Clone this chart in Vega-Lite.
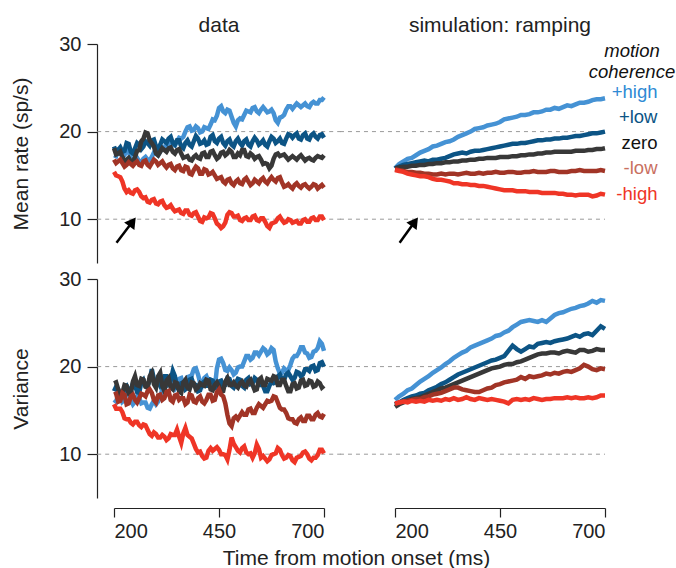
{
"$schema": "https://vega.github.io/schema/vega-lite/v6.json",
"background": "white",
"autosize": {"type": "none"},
"padding": {"left": 114, "top": 44, "right": 562, "bottom": 524},
"bounds": "flush",
"columns": 2,
"spacing": {"row": 16, "column": 71},
"config": {
  "font": "Liberation Sans",
  "view": {"stroke": null},
  "axis": {"labelFontSize": 20, "titleFontSize": 21, "labelColor": "#222", "titleColor": "#222", "domainColor": "#222", "tickColor": "#222", "grid": false, "titleFontWeight": "normal", "domainWidth": 1.2, "tickWidth": 1.2},
  "title": {"fontSize": 21, "fontWeight": "normal", "color": "#222", "anchor": "middle", "offset": -2},
  "legend": {"padding": 0}
},
"datasets": {
  "grid": [{"g": 10}, {"g": 20}],
  "arrowL": [{"x": 206, "y": 7.3, "x2": 244, "y2": 9.7}],
  "arrowR": [{"x": 211, "y": 7.3, "x2": 247, "y2": 9.7}],
  "rateData": [
{"t":200,"+high":17.3,"+low":18.3,"zero":18.1,"-low":16.8,"-high":15.4},
{"t":205,"+high":17.2,"+low":17.7,"zero":17.4,"-low":16.4,"-high":15.0},
{"t":210,"+high":17.9,"+low":17.9,"zero":17.5,"-low":16.6,"-high":14.9},
{"t":215,"+high":17.8,"+low":18.2,"zero":17.7,"-low":16.8,"-high":14.8},
{"t":220,"+high":17.1,"+low":17.7,"zero":17.1,"-low":16.4,"-high":14.3},
{"t":225,"+high":17.3,"+low":17.8,"zero":16.6,"-low":16.0,"-high":13.5},
{"t":230,"+high":17.9,"+low":18.7,"zero":16.8,"-low":16.2,"-high":13.1},
{"t":235,"+high":17.7,"+low":18.6,"zero":17.0,"-low":16.5,"-high":13.3},
{"t":240,"+high":17.0,"+low":17.7,"zero":16.6,"-low":16.3,"-high":13.0},
{"t":245,"+high":16.6,"+low":17.5,"zero":16.5,"-low":16.1,"-high":12.9},
{"t":250,"+high":16.8,"+low":18.1,"zero":17.1,"-low":16.4,"-high":13.3},
{"t":255,"+high":17.0,"+low":18.7,"zero":17.8,"-low":16.6,"-high":13.4},
{"t":260,"+high":16.6,"+low":18.5,"zero":17.9,"-low":16.2,"-high":13.1},
{"t":265,"+high":16.5,"+low":18.0,"zero":18.9,"-low":16.1,"-high":12.6},
{"t":270,"+high":16.9,"+low":18.3,"zero":19.2,"-low":16.6,"-high":12.4},
{"t":275,"+high":17.1,"+low":18.9,"zero":19.9,"-low":16.7,"-high":12.5},
{"t":280,"+high":16.8,"+low":18.7,"zero":19.8,"-low":16.2,"-high":12.0},
{"t":285,"+high":16.7,"+low":18.4,"zero":19.0,"-low":16.0,"-high":11.9},
{"t":290,"+high":17.1,"+low":19.0,"zero":18.7,"-low":16.4,"-high":12.2},
{"t":295,"+high":17.6,"+low":19.1,"zero":18.3,"-low":16.8,"-high":12.3},
{"t":300,"+high":17.5,"+low":18.3,"zero":17.5,"-low":16.6,"-high":11.8},
{"t":305,"+high":17.3,"+low":18.0,"zero":17.3,"-low":16.2,"-high":11.7},
{"t":310,"+high":17.7,"+low":18.5,"zero":17.7,"-low":16.4,"-high":12.0},
{"t":315,"+high":18.2,"+low":19.1,"zero":18.1,"-low":16.6,"-high":12.1},
{"t":320,"+high":18.3,"+low":18.9,"zero":17.9,"-low":16.2,"-high":11.6},
{"t":325,"+high":18.1,"+low":18.7,"zero":17.7,"-low":15.9,"-high":11.3},
{"t":330,"+high":18.5,"+low":19.2,"zero":18.1,"-low":16.2,"-high":11.4},
{"t":335,"+high":18.8,"+low":19.4,"zero":18.2,"-low":16.3,"-high":11.6},
{"t":340,"+high":18.5,"+low":18.7,"zero":17.7,"-low":15.8,"-high":11.2},
{"t":345,"+high":18.4,"+low":18.5,"zero":17.5,"-low":15.6,"-high":10.9},
{"t":350,"+high":18.9,"+low":19.0,"zero":17.9,"-low":16.0,"-high":11.0},
{"t":355,"+high":19.3,"+low":19.0,"zero":18.0,"-low":16.1,"-high":11.1},
{"t":360,"+high":19.2,"+low":18.3,"zero":17.5,"-low":15.6,"-high":10.7},
{"t":365,"+high":19.4,"+low":18.1,"zero":17.0,"-low":15.5,"-high":10.6},
{"t":370,"+high":20.0,"+low":18.7,"zero":17.1,"-low":16.0,"-high":11.0},
{"t":375,"+high":20.5,"+low":19.0,"zero":17.2,"-low":15.9,"-high":11.0},
{"t":380,"+high":20.6,"+low":18.5,"zero":16.8,"-low":15.2,"-high":10.5},
{"t":385,"+high":20.1,"+low":18.3,"zero":16.7,"-low":15.1,"-high":10.4},
{"t":390,"+high":20.2,"+low":18.9,"zero":17.1,"-low":15.6,"-high":10.7},
{"t":395,"+high":20.6,"+low":19.5,"zero":17.3,"-low":16.0,"-high":10.8},
{"t":400,"+high":20.4,"+low":19.2,"zero":17.0,"-low":15.8,"-high":10.3},
{"t":405,"+high":19.9,"+low":18.6,"zero":16.9,"-low":15.2,"-high":9.8},
{"t":410,"+high":20.0,"+low":18.7,"zero":17.5,"-low":15.2,"-high":9.7},
{"t":415,"+high":20.5,"+low":19.0,"zero":17.6,"-low":15.7,"-high":10.2},
{"t":420,"+high":20.4,"+low":18.5,"zero":17.1,"-low":15.6,"-high":10.1},
{"t":425,"+high":20.3,"+low":18.6,"zero":17.1,"-low":15.1,"-high":10.2},
{"t":430,"+high":20.8,"+low":19.4,"zero":17.7,"-low":15.2,"-high":10.7},
{"t":435,"+high":21.4,"+low":19.6,"zero":17.8,"-low":15.4,"-high":10.6},
{"t":440,"+high":21.3,"+low":18.9,"zero":17.3,"-low":15.0,"-high":10.1},
{"t":445,"+high":21.8,"+low":18.7,"zero":16.9,"-low":14.6,"-high":9.5},
{"t":450,"+high":22.7,"+low":19.2,"zero":17.1,"-low":14.7,"-high":9.3},
{"t":455,"+high":22.9,"+low":19.4,"zero":17.6,"-low":14.8,"-high":9.0},
{"t":460,"+high":22.3,"+low":18.7,"zero":17.7,"-low":14.3,"-high":9.2},
{"t":465,"+high":22.1,"+low":18.4,"zero":17.3,"-low":14.1,"-high":9.6},
{"t":470,"+high":22.5,"+low":18.9,"zero":17.5,"-low":14.5,"-high":10.5},
{"t":475,"+high":22.4,"+low":19.1,"zero":17.9,"-low":14.6,"-high":10.8},
{"t":480,"+high":21.7,"+low":18.5,"zero":17.7,"-low":14.1,"-high":10.7},
{"t":485,"+high":21.0,"+low":18.3,"zero":17.1,"-low":13.9,"-high":10.3},
{"t":490,"+high":20.6,"+low":18.9,"zero":17.1,"-low":14.3,"-high":10.3},
{"t":495,"+high":21.3,"+low":19.2,"zero":17.5,"-low":14.5,"-high":10.4},
{"t":500,"+high":21.5,"+low":18.7,"zero":17.3,"-low":14.1,"-high":9.9},
{"t":505,"+high":21.4,"+low":18.4,"zero":17.9,"-low":14.0,"-high":9.8},
{"t":510,"+high":21.9,"+low":18.9,"zero":17.9,"-low":14.5,"-high":10.1},
{"t":515,"+high":22.4,"+low":19.1,"zero":17.2,"-low":14.7,"-high":10.2},
{"t":520,"+high":22.3,"+low":18.5,"zero":17.1,"-low":14.3,"-high":9.9},
{"t":525,"+high":22.2,"+low":18.3,"zero":17.5,"-low":13.9,"-high":9.9},
{"t":530,"+high":22.7,"+low":18.9,"zero":17.3,"-low":14.1,"-high":10.3},
{"t":535,"+high":22.8,"+low":19.3,"zero":16.9,"-low":14.5,"-high":10.4},
{"t":540,"+high":22.3,"+low":19.0,"zero":17.1,"-low":14.3,"-high":9.9},
{"t":545,"+high":22.1,"+low":18.5,"zero":17.2,"-low":14.1,"-high":9.8},
{"t":550,"+high":22.5,"+low":18.7,"zero":16.8,"-low":14.5,"-high":10.1},
{"t":555,"+high":22.8,"+low":19.0,"zero":16.3,"-low":14.7,"-high":10.1},
{"t":560,"+high":22.5,"+low":18.5,"zero":16.4,"-low":14.3,"-high":9.7},
{"t":565,"+high":22.2,"+low":18.3,"zero":16.3,"-low":14.1,"-high":9.2},
{"t":570,"+high":22.3,"+low":18.9,"zero":15.8,"-low":14.5,"-high":9.0},
{"t":575,"+high":22.5,"+low":19.4,"zero":16.1,"-low":14.8,"-high":9.5},
{"t":580,"+high":22.1,"+low":19.2,"zero":16.9,"-low":14.5,"-high":9.6},
{"t":585,"+high":21.3,"+low":18.7,"zero":17.4,"-low":14.3,"-high":9.7},
{"t":590,"+high":21.0,"+low":18.9,"zero":17.5,"-low":14.7,"-high":10.1},
{"t":595,"+high":21.6,"+low":19.2,"zero":17.2,"-low":14.8,"-high":10.3},
{"t":600,"+high":21.7,"+low":18.7,"zero":17.3,"-low":14.2,"-high":9.9},
{"t":605,"+high":21.9,"+low":18.6,"zero":17.4,"-low":13.7,"-high":9.6},
{"t":610,"+high":22.5,"+low":19.2,"zero":17.1,"-low":13.8,"-high":9.7},
{"t":615,"+high":22.9,"+low":19.7,"zero":16.8,"-low":14.0,"-high":10.0},
{"t":620,"+high":22.9,"+low":19.6,"zero":17.0,"-low":13.7,"-high":9.9},
{"t":625,"+high":22.6,"+low":19.3,"zero":17.2,"-low":13.5,"-high":9.6},
{"t":630,"+high":22.9,"+low":19.6,"zero":17.0,"-low":13.9,"-high":9.7},
{"t":635,"+high":23.2,"+low":19.8,"zero":16.8,"-low":14.1,"-high":9.8},
{"t":640,"+high":23.0,"+low":19.2,"zero":17.1,"-low":13.8,"-high":9.5},
{"t":645,"+high":22.8,"+low":19.1,"zero":17.3,"-low":13.6,"-high":9.5},
{"t":650,"+high":23.0,"+low":19.6,"zero":17.0,"-low":13.9,"-high":9.9},
{"t":655,"+high":23.2,"+low":19.8,"zero":16.7,"-low":14.0,"-high":10.0},
{"t":660,"+high":22.9,"+low":19.2,"zero":16.9,"-low":13.7,"-high":9.7},
{"t":665,"+high":22.8,"+low":19.1,"zero":17.0,"-low":13.5,"-high":9.7},
{"t":670,"+high":23.2,"+low":19.6,"zero":16.8,"-low":13.7,"-high":10.1},
{"t":675,"+high":23.4,"+low":19.8,"zero":16.7,"-low":14.0,"-high":10.2},
{"t":680,"+high":23.2,"+low":19.4,"zero":17.0,"-low":13.9,"-high":9.9},
{"t":685,"+high":23.2,"+low":19.2,"zero":17.2,"-low":13.5,"-high":9.9},
{"t":690,"+high":23.6,"+low":19.6,"zero":17.1,"-low":13.7,"-high":10.3},
{"t":695,"+high":23.6,"+low":19.7,"zero":17.0,"-low":13.9,"-high":10.3},
{"t":700,"+high":23.9,"+low":19.3,"zero":17.3,"-low":13.6,"-high":9.9}
  ],
  "rateSim": [
{"t":200,"+high":15.8,"+low":15.8,"zero":15.8,"-low":15.7,"-high":15.6},
{"t":210,"+high":16.3,"+low":16.0,"zero":15.9,"-low":15.6,"-high":15.5},
{"t":220,"+high":16.6,"+low":16.2,"zero":16.0,"-low":15.5,"-high":15.4},
{"t":230,"+high":16.9,"+low":16.3,"zero":16.0,"-low":15.4,"-high":15.2},
{"t":240,"+high":17.0,"+low":16.4,"zero":16.1,"-low":15.4,"-high":15.1},
{"t":250,"+high":17.3,"+low":16.5,"zero":16.1,"-low":15.3,"-high":15.0},
{"t":260,"+high":17.6,"+low":16.6,"zero":16.2,"-low":15.3,"-high":14.9},
{"t":270,"+high":17.8,"+low":16.7,"zero":16.2,"-low":15.2,"-high":14.9},
{"t":280,"+high":18.0,"+low":16.6,"zero":16.3,"-low":15.2,"-high":14.8},
{"t":290,"+high":18.3,"+low":16.8,"zero":16.3,"-low":15.1,"-high":14.6},
{"t":300,"+high":18.4,"+low":16.8,"zero":16.4,"-low":15.1,"-high":14.5},
{"t":310,"+high":18.6,"+low":16.9,"zero":16.4,"-low":15.2,"-high":14.5},
{"t":320,"+high":18.8,"+low":17.0,"zero":16.5,"-low":15.1,"-high":14.4},
{"t":330,"+high":18.9,"+low":17.2,"zero":16.5,"-low":15.2,"-high":14.3},
{"t":340,"+high":19.1,"+low":17.4,"zero":16.6,"-low":15.2,"-high":14.1},
{"t":350,"+high":19.4,"+low":17.5,"zero":16.6,"-low":15.1,"-high":14.1},
{"t":360,"+high":19.6,"+low":17.6,"zero":16.7,"-low":15.2,"-high":14.0},
{"t":370,"+high":19.8,"+low":17.5,"zero":16.7,"-low":15.3,"-high":14.0},
{"t":380,"+high":20.0,"+low":17.7,"zero":16.8,"-low":15.2,"-high":13.9},
{"t":390,"+high":20.3,"+low":17.8,"zero":16.8,"-low":15.2,"-high":13.9},
{"t":400,"+high":20.4,"+low":17.8,"zero":16.9,"-low":15.3,"-high":13.8},
{"t":410,"+high":20.5,"+low":17.9,"zero":16.9,"-low":15.2,"-high":13.8},
{"t":420,"+high":20.7,"+low":18.0,"zero":17.0,"-low":15.3,"-high":13.7},
{"t":430,"+high":20.8,"+low":18.1,"zero":17.0,"-low":15.3,"-high":13.6},
{"t":440,"+high":20.9,"+low":18.2,"zero":17.0,"-low":15.4,"-high":13.5},
{"t":450,"+high":21.1,"+low":18.3,"zero":17.1,"-low":15.3,"-high":13.4},
{"t":460,"+high":21.4,"+low":18.4,"zero":17.1,"-low":15.3,"-high":13.3},
{"t":470,"+high":21.5,"+low":18.5,"zero":17.1,"-low":15.4,"-high":13.3},
{"t":480,"+high":21.6,"+low":18.6,"zero":17.2,"-low":15.4,"-high":13.3},
{"t":490,"+high":21.7,"+low":18.6,"zero":17.2,"-low":15.3,"-high":13.2},
{"t":500,"+high":21.9,"+low":18.7,"zero":17.3,"-low":15.3,"-high":13.2},
{"t":510,"+high":21.9,"+low":18.7,"zero":17.3,"-low":15.4,"-high":13.2},
{"t":520,"+high":22.0,"+low":18.8,"zero":17.4,"-low":15.4,"-high":13.1},
{"t":530,"+high":22.2,"+low":18.9,"zero":17.4,"-low":15.5,"-high":13.1},
{"t":540,"+high":22.2,"+low":19.0,"zero":17.5,"-low":15.4,"-high":13.1},
{"t":550,"+high":22.3,"+low":19.0,"zero":17.5,"-low":15.4,"-high":13.0},
{"t":560,"+high":22.5,"+low":19.1,"zero":17.6,"-low":15.4,"-high":13.0},
{"t":570,"+high":22.5,"+low":19.1,"zero":17.6,"-low":15.5,"-high":13.0},
{"t":580,"+high":22.7,"+low":19.2,"zero":17.7,"-low":15.5,"-high":13.0},
{"t":590,"+high":22.6,"+low":19.2,"zero":17.7,"-low":15.4,"-high":12.9},
{"t":600,"+high":22.8,"+low":19.3,"zero":17.7,"-low":15.4,"-high":12.9},
{"t":610,"+high":23.0,"+low":19.3,"zero":17.7,"-low":15.4,"-high":12.8},
{"t":620,"+high":22.9,"+low":19.4,"zero":17.7,"-low":15.5,"-high":12.8},
{"t":630,"+high":23.1,"+low":19.5,"zero":17.8,"-low":15.5,"-high":12.7},
{"t":640,"+high":23.3,"+low":19.5,"zero":17.8,"-low":15.6,"-high":12.8},
{"t":650,"+high":23.3,"+low":19.6,"zero":17.8,"-low":15.5,"-high":12.8},
{"t":660,"+high":23.4,"+low":19.7,"zero":17.9,"-low":15.5,"-high":12.8},
{"t":670,"+high":23.6,"+low":19.8,"zero":17.9,"-low":15.5,"-high":12.6},
{"t":680,"+high":23.7,"+low":19.8,"zero":18.0,"-low":15.5,"-high":12.7},
{"t":690,"+high":23.7,"+low":19.9,"zero":18.0,"-low":15.6,"-high":12.9},
{"t":700,"+high":23.8,"+low":20.0,"zero":18.1,"-low":15.5,"-high":12.8}
  ],
  "varData": [
{"t":200,"+high":16.2,"+low":17.2,"zero":18.1,"-low":16.8,"-high":15.7},
{"t":205,"+high":16.0,"+low":17.7,"zero":18.2,"-low":16.9,"-high":15.2},
{"t":210,"+high":16.8,"+low":17.4,"zero":17.4,"-low":16.0,"-high":15.2},
{"t":215,"+high":16.9,"+low":16.7,"zero":16.8,"-low":16.1,"-high":15.2},
{"t":220,"+high":16.0,"+low":16.6,"zero":17.0,"-low":17.0,"-high":14.8},
{"t":225,"+high":16.2,"+low":17.6,"zero":17.9,"-low":16.8,"-high":14.1},
{"t":230,"+high":17.2,"+low":17.8,"zero":17.8,"-low":15.7,"-high":14.0},
{"t":235,"+high":17.1,"+low":17.2,"zero":16.9,"-low":15.8,"-high":14.0},
{"t":240,"+high":16.2,"+low":17.4,"zero":16.8,"-low":16.6,"-high":13.6},
{"t":245,"+high":15.7,"+low":18.1,"zero":18.3,"-low":16.8,"-high":13.4},
{"t":250,"+high":16.0,"+low":17.9,"zero":18.9,"-low":16.2,"-high":13.7},
{"t":255,"+high":16.6,"+low":17.1,"zero":17.9,"-low":15.9,"-high":13.7},
{"t":260,"+high":16.4,"+low":17.0,"zero":17.8,"-low":16.4,"-high":13.3},
{"t":265,"+high":15.8,"+low":18.2,"zero":18.6,"-low":16.9,"-high":13.1},
{"t":270,"+high":15.9,"+low":18.5,"zero":18.5,"-low":16.8,"-high":13.4},
{"t":275,"+high":15.9,"+low":17.8,"zero":17.7,"-low":16.6,"-high":13.3},
{"t":280,"+high":15.3,"+low":17.8,"zero":17.6,"-low":17.2,"-high":12.8},
{"t":285,"+high":15.2,"+low":18.4,"zero":18.9,"-low":17.4,"-high":12.3},
{"t":290,"+high":15.7,"+low":19.7,"zero":19.3,"-low":17.0,"-high":12.1},
{"t":295,"+high":16.1,"+low":18.6,"zero":18.0,"-low":16.2,"-high":12.5},
{"t":300,"+high":15.7,"+low":17.9,"zero":17.6,"-low":15.9,"-high":12.3},
{"t":305,"+high":16.0,"+low":18.3,"zero":18.9,"-low":16.7,"-high":11.9},
{"t":310,"+high":16.6,"+low":17.8,"zero":19.3,"-low":16.8,"-high":11.9},
{"t":315,"+high":17.4,"+low":18.1,"zero":17.8,"-low":16.2,"-high":12.2},
{"t":320,"+high":17.6,"+low":18.9,"zero":17.2,"-low":16.4,"-high":12.0},
{"t":325,"+high":17.8,"+low":18.9,"zero":18.4,"-low":17.1,"-high":11.6},
{"t":330,"+high":18.5,"+low":18.1,"zero":18.7,"-low":17.2,"-high":11.8},
{"t":335,"+high":18.6,"+low":18.4,"zero":17.6,"-low":16.2,"-high":12.3},
{"t":340,"+high":17.9,"+low":19.5,"zero":17.4,"-low":16.0,"-high":12.2},
{"t":345,"+high":17.5,"+low":18.9,"zero":18.2,"-low":16.7,"-high":12.2},
{"t":350,"+high":17.9,"+low":17.6,"zero":18.1,"-low":16.8,"-high":12.8},
{"t":355,"+high":18.6,"+low":17.5,"zero":17.2,"-low":16.2,"-high":12.0},
{"t":360,"+high":18.7,"+low":18.1,"zero":17.0,"-low":16.4,"-high":11.3},
{"t":365,"+high":17.9,"+low":18.2,"zero":18.2,"-low":16.4,"-high":12.4},
{"t":370,"+high":17.9,"+low":17.4,"zero":18.5,"-low":15.7,"-high":13.0},
{"t":375,"+high":18.8,"+low":17.6,"zero":17.6,"-low":15.9,"-high":12.2},
{"t":380,"+high":18.9,"+low":18.5,"zero":17.4,"-low":16.8,"-high":12.0},
{"t":385,"+high":19.0,"+low":18.6,"zero":18.2,"-low":16.7,"-high":11.8},
{"t":390,"+high":19.7,"+low":17.9,"zero":18.1,"-low":16.0,"-high":11.2},
{"t":395,"+high":19.8,"+low":17.9,"zero":17.4,"-low":15.9,"-high":10.6},
{"t":400,"+high":19.1,"+low":17.2,"zero":17.6,"-low":16.4,"-high":10.2},
{"t":405,"+high":18.2,"+low":17.3,"zero":18.1,"-low":16.6,"-high":10.3},
{"t":410,"+high":17.9,"+low":18.1,"zero":17.9,"-low":16.0,"-high":9.8},
{"t":415,"+high":18.7,"+low":18.3,"zero":17.8,"-low":15.8,"-high":9.5},
{"t":420,"+high":18.9,"+low":17.8,"zero":18.5,"-low":16.2,"-high":9.6},
{"t":425,"+high":18.3,"+low":17.8,"zero":18.4,"-low":16.8,"-high":10.4},
{"t":430,"+high":18.5,"+low":18.5,"zero":17.4,"-low":16.8,"-high":10.7},
{"t":435,"+high":18.4,"+low":18.4,"zero":17.3,"-low":16.1,"-high":10.4},
{"t":440,"+high":17.6,"+low":17.6,"zero":17.9,"-low":16.2,"-high":10.6},
{"t":445,"+high":19.8,"+low":17.5,"zero":18.2,"-low":17.1,"-high":10.8},
{"t":450,"+high":20.8,"+low":18.3,"zero":17.8,"-low":17.4,"-high":10.5},
{"t":455,"+high":20.9,"+low":18.4,"zero":17.1,"-low":16.8,"-high":10.0},
{"t":460,"+high":20.4,"+low":17.8,"zero":17.2,"-low":16.6,"-high":10.0},
{"t":465,"+high":19.6,"+low":17.9,"zero":18.3,"-low":15.8,"-high":9.9},
{"t":470,"+high":19.5,"+low":18.7,"zero":18.7,"-low":14.5,"-high":9.4},
{"t":475,"+high":19.9,"+low":18.6,"zero":17.9,"-low":13.5,"-high":10.5},
{"t":480,"+high":19.6,"+low":17.8,"zero":17.9,"-low":13.2,"-high":11.9},
{"t":485,"+high":19.1,"+low":17.6,"zero":18.2,"-low":14.1,"-high":11.2},
{"t":490,"+high":19.3,"+low":18.1,"zero":17.8,"-low":14.3,"-high":10.8},
{"t":495,"+high":19.9,"+low":18.6,"zero":17.6,"-low":14.0,"-high":10.4},
{"t":500,"+high":20.0,"+low":18.5,"zero":18.1,"-low":14.4,"-high":10.2},
{"t":505,"+high":20.0,"+low":17.8,"zero":18.3,"-low":14.8,"-high":10.7},
{"t":510,"+high":20.6,"+low":17.6,"zero":17.8,"-low":14.5,"-high":10.9},
{"t":515,"+high":21.2,"+low":18.5,"zero":17.7,"-low":14.5,"-high":10.2},
{"t":520,"+high":21.2,"+low":18.7,"zero":18.3,"-low":15.1,"-high":10.0},
{"t":525,"+high":20.8,"+low":18.0,"zero":18.5,"-low":15.2,"-high":10.1},
{"t":530,"+high":21.0,"+low":18.1,"zero":17.9,"-low":14.7,"-high":9.6},
{"t":535,"+high":21.6,"+low":18.7,"zero":17.3,"-low":14.7,"-high":10.1},
{"t":540,"+high":21.6,"+low":18.5,"zero":17.4,"-low":15.3,"-high":11.1},
{"t":545,"+high":21.3,"+low":17.9,"zero":18.5,"-low":15.7,"-high":10.6},
{"t":550,"+high":21.7,"+low":17.9,"zero":18.7,"-low":15.5,"-high":9.6},
{"t":555,"+high":22.1,"+low":17.8,"zero":17.9,"-low":15.3,"-high":9.8},
{"t":560,"+high":21.9,"+low":17.2,"zero":17.9,"-low":15.7,"-high":9.5},
{"t":565,"+high":21.4,"+low":17.2,"zero":18.6,"-low":16.1,"-high":9.2},
{"t":570,"+high":21.6,"+low":17.8,"zero":18.5,"-low":16.0,"-high":9.4},
{"t":575,"+high":22.1,"+low":18.3,"zero":18.4,"-low":16.1,"-high":9.9},
{"t":580,"+high":21.9,"+low":18.1,"zero":18.9,"-low":16.6,"-high":10.0},
{"t":585,"+high":20.6,"+low":18.2,"zero":18.8,"-low":16.5,"-high":10.1},
{"t":590,"+high":19.8,"+low":18.9,"zero":17.9,"-low":15.9,"-high":10.7},
{"t":595,"+high":19.2,"+low":19.1,"zero":17.9,"-low":15.3,"-high":10.5},
{"t":600,"+high":19.3,"+low":18.5,"zero":18.5,"-low":15.1,"-high":9.9},
{"t":605,"+high":19.8,"+low":18.5,"zero":18.5,"-low":15.1,"-high":9.5},
{"t":610,"+high":19.6,"+low":19.1,"zero":17.8,"-low":14.7,"-high":9.6},
{"t":615,"+high":19.6,"+low":19.3,"zero":17.2,"-low":14.1,"-high":9.9},
{"t":620,"+high":20.2,"+low":18.9,"zero":17.2,"-low":14.0,"-high":9.8},
{"t":625,"+high":20.9,"+low":18.5,"zero":18.0,"-low":14.0,"-high":9.3},
{"t":630,"+high":21.2,"+low":18.7,"zero":18.1,"-low":13.6,"-high":9.1},
{"t":635,"+high":21.2,"+low":19.4,"zero":17.5,"-low":13.5,"-high":9.6},
{"t":640,"+high":21.6,"+low":19.3,"zero":17.6,"-low":14.0,"-high":9.7},
{"t":645,"+high":22.2,"+low":18.9,"zero":18.4,"-low":14.2,"-high":9.8},
{"t":650,"+high":22.2,"+low":19.1,"zero":18.5,"-low":13.8,"-high":10.2},
{"t":655,"+high":21.6,"+low":19.7,"zero":17.8,"-low":13.8,"-high":10.3},
{"t":660,"+high":21.5,"+low":19.7,"zero":17.9,"-low":14.4,"-high":10.0},
{"t":665,"+high":21.0,"+low":19.5,"zero":18.4,"-low":14.4,"-high":9.5},
{"t":670,"+high":21.1,"+low":20.0,"zero":18.3,"-low":14.0,"-high":9.3},
{"t":675,"+high":21.7,"+low":20.1,"zero":17.7,"-low":14.0,"-high":9.6},
{"t":680,"+high":21.8,"+low":19.5,"zero":17.8,"-low":14.5,"-high":9.6},
{"t":685,"+high":22.1,"+low":19.6,"zero":18.3,"-low":14.7,"-high":9.9},
{"t":690,"+high":22.9,"+low":20.4,"zero":18.1,"-low":14.3,"-high":10.5},
{"t":695,"+high":22.6,"+low":20.5,"zero":17.6,"-low":14.2,"-high":10.5},
{"t":700,"+high":21.8,"+low":20.0,"zero":17.8,"-low":14.6,"-high":10.1}
  ],
  "varSim": [
{"t":200,"+high":16.2,"+low":15.7,"zero":15.4,"-low":15.7,"-high":15.8},
{"t":210,"+high":16.6,"+low":15.9,"zero":15.7,"-low":15.9,"-high":15.9},
{"t":220,"+high":16.9,"+low":16.2,"zero":15.9,"-low":16.0,"-high":16.0},
{"t":230,"+high":17.3,"+low":16.4,"zero":16.1,"-low":16.1,"-high":15.9},
{"t":240,"+high":17.5,"+low":16.6,"zero":16.3,"-low":16.2,"-high":16.1},
{"t":250,"+high":17.9,"+low":16.7,"zero":16.4,"-low":16.3,"-high":16.0},
{"t":260,"+high":18.3,"+low":16.9,"zero":16.5,"-low":16.3,"-high":16.1},
{"t":270,"+high":18.6,"+low":17.0,"zero":16.7,"-low":16.5,"-high":16.0},
{"t":280,"+high":18.9,"+low":17.3,"zero":16.9,"-low":16.6,"-high":16.2},
{"t":290,"+high":19.3,"+low":17.5,"zero":17.1,"-low":16.8,"-high":16.1},
{"t":300,"+high":19.6,"+low":17.7,"zero":17.3,"-low":16.9,"-high":16.2},
{"t":310,"+high":19.9,"+low":18.0,"zero":17.5,"-low":17.0,"-high":16.1},
{"t":320,"+high":20.3,"+low":18.2,"zero":17.6,"-low":17.2,"-high":16.3},
{"t":330,"+high":20.6,"+low":18.5,"zero":17.8,"-low":17.4,"-high":16.2},
{"t":340,"+high":21.0,"+low":18.8,"zero":18.0,"-low":17.6,"-high":16.4},
{"t":350,"+high":21.3,"+low":19.1,"zero":18.2,"-low":17.6,"-high":16.2},
{"t":360,"+high":21.6,"+low":19.3,"zero":18.4,"-low":17.4,"-high":16.3},
{"t":370,"+high":21.8,"+low":19.5,"zero":18.6,"-low":17.3,"-high":16.5},
{"t":380,"+high":22.2,"+low":19.7,"zero":18.8,"-low":17.2,"-high":16.3},
{"t":390,"+high":22.4,"+low":19.9,"zero":19.0,"-low":17.1,"-high":16.2},
{"t":400,"+high":22.6,"+low":20.1,"zero":19.2,"-low":17.1,"-high":16.4},
{"t":410,"+high":22.8,"+low":20.3,"zero":19.4,"-low":17.3,"-high":16.3},
{"t":420,"+high":23.0,"+low":20.5,"zero":19.6,"-low":17.5,"-high":16.2},
{"t":430,"+high":23.2,"+low":20.7,"zero":19.8,"-low":17.6,"-high":16.3},
{"t":440,"+high":23.5,"+low":20.8,"zero":19.9,"-low":17.9,"-high":16.2},
{"t":450,"+high":23.6,"+low":21.0,"zero":20.0,"-low":18.0,"-high":16.1},
{"t":460,"+high":23.9,"+low":21.2,"zero":20.2,"-low":18.2,"-high":16.0},
{"t":470,"+high":24.1,"+low":21.8,"zero":20.3,"-low":18.3,"-high":15.8},
{"t":480,"+high":24.5,"+low":22.4,"zero":20.3,"-low":18.4,"-high":16.2},
{"t":490,"+high":24.8,"+low":22.0,"zero":20.5,"-low":18.5,"-high":16.3},
{"t":500,"+high":25.1,"+low":21.7,"zero":20.6,"-low":18.8,"-high":16.2},
{"t":510,"+high":25.2,"+low":22.0,"zero":20.8,"-low":18.6,"-high":16.3},
{"t":520,"+high":25.3,"+low":22.3,"zero":21.0,"-low":18.9,"-high":16.2},
{"t":530,"+high":25.2,"+low":22.2,"zero":21.2,"-low":18.8,"-high":16.4},
{"t":540,"+high":25.1,"+low":22.6,"zero":21.4,"-low":18.9,"-high":16.3},
{"t":550,"+high":25.3,"+low":22.7,"zero":21.5,"-low":19.0,"-high":16.2},
{"t":560,"+high":25.1,"+low":22.8,"zero":21.5,"-low":19.2,"-high":16.3},
{"t":570,"+high":25.5,"+low":22.7,"zero":21.6,"-low":19.1,"-high":16.3},
{"t":580,"+high":25.9,"+low":22.9,"zero":21.6,"-low":19.3,"-high":16.4},
{"t":590,"+high":26.1,"+low":23.0,"zero":21.5,"-low":19.2,"-high":16.4},
{"t":600,"+high":26.2,"+low":23.1,"zero":21.7,"-low":19.4,"-high":16.4},
{"t":610,"+high":26.4,"+low":23.2,"zero":21.8,"-low":19.5,"-high":16.5},
{"t":620,"+high":26.6,"+low":23.4,"zero":21.7,"-low":19.4,"-high":16.4},
{"t":630,"+high":26.7,"+low":23.6,"zero":21.6,"-low":19.6,"-high":16.5},
{"t":640,"+high":26.9,"+low":23.4,"zero":21.9,"-low":19.8,"-high":16.4},
{"t":650,"+high":27.0,"+low":23.7,"zero":21.9,"-low":20.2,"-high":16.4},
{"t":660,"+high":27.2,"+low":23.8,"zero":21.7,"-low":20.0,"-high":16.5},
{"t":670,"+high":27.5,"+low":23.6,"zero":21.8,"-low":19.7,"-high":16.4},
{"t":680,"+high":27.3,"+low":24.1,"zero":22.0,"-low":19.6,"-high":16.5},
{"t":690,"+high":27.6,"+low":24.6,"zero":21.9,"-low":19.8,"-high":16.7},
{"t":700,"+high":27.5,"+low":24.3,"zero":21.9,"-low":19.7,"-high":16.7}
  ]
},
"concat": [
  {
    "width": 210, "height": 219,
    "title": {"text": "data"},
    "layer": [
      {"data": {"name": "grid"}, "mark": {"type": "rule", "strokeDash": [4, 4], "color": "#9a9a9a", "strokeWidth": 1},
       "encoding": {
         "y": {"field": "g", "type": "quantitative", "scale": {"domain": [5, 30], "nice": false}, "axis": {"values": [10, 20, 30], "title": "Mean rate (sp/s)", "offset": 17, "tickSize": 10, "labelPadding": 6, "titlePadding": 27}},
         "x": {"datum": 160, "type": "quantitative", "scale": {"domain": [200, 700], "nice": false}, "axis": null},
         "x2": {"datum": 740}}},
      {"data": {"name": "rateData"}, "transform": [{"fold": ["+high", "+low", "zero", "-low", "-high"], "as": ["coh", "val"]}],
       "mark": {"type": "line", "strokeWidth": 4.5},
       "encoding": {
         "x": {"field": "t", "type": "quantitative", "scale": {"domain": [200, 700], "nice": false}, "axis": null},
         "y": {"field": "val", "type": "quantitative", "scale": {"domain": [5, 30], "nice": false}, "axis": {"values": [10, 20, 30], "title": "Mean rate (sp/s)", "offset": 17, "tickSize": 10, "labelPadding": 6, "titlePadding": 27}},
         "color": {"field": "coh", "type": "nominal", "scale": {"domain": ["+high", "+low", "zero", "-low", "-high"], "range": ["#4592d4", "#0c5485", "#383838", "#a13426", "#ef3526"]},
           "legend": {"orient": "none", "legendX": 475, "legendY": -2, "title": ["motion", "coherence"], "titleFontStyle": "italic", "titleFontWeight": "normal", "titleFontSize": 18.5, "titleColor": "#111", "titleAnchor": "middle", "titleAlign": "center", "titleLineHeight": 21, "titlePadding": 1, "labelFontSize": 18.5, "labelAlign": "right", "labelOffset": 33, "labelColor": {"expr": "datum.label == '+high' ? '#2e8ad4' : datum.label == '+low' ? '#0c5485' : datum.label == 'zero' ? '#111111' : datum.label == '-low' ? '#c9705f' : '#ef3526'"}, "symbolOpacity": 0, "symbolSize": 1, "symbolStrokeWidth": 0, "rowPadding": 6.5}}}},
      {"data": {"name": "arrowL"}, "mark": {"type": "rule", "strokeWidth": 2.5, "color": "black"},
       "encoding": {
         "x": {"field": "x", "type": "quantitative", "scale": {"domain": [200, 700], "nice": false}, "axis": null},
         "y": {"field": "y", "type": "quantitative", "scale": {"domain": [5, 30], "nice": false}, "axis": {"values": [10, 20, 30], "title": "Mean rate (sp/s)", "offset": 17, "tickSize": 10, "labelPadding": 6, "titlePadding": 27}},
         "x2": {"field": "x2"}, "y2": {"field": "y2"}}},
      {"data": {"name": "arrowL"}, "mark": {"type": "point", "shape": "triangle-up", "angle": 36, "size": 160, "filled": true, "color": "black", "opacity": 1},
       "encoding": {
         "x": {"field": "x2", "type": "quantitative", "scale": {"domain": [200, 700], "nice": false}, "axis": null},
         "y": {"field": "y2", "type": "quantitative", "scale": {"domain": [5, 30], "nice": false}, "axis": {"values": [10, 20, 30], "title": "Mean rate (sp/s)", "offset": 17, "tickSize": 10, "labelPadding": 6, "titlePadding": 27}}}}
    ]
  },
  {
    "width": 210, "height": 219,
    "title": {"text": "simulation: ramping", "offset": 8},
    "layer": [
      {"data": {"name": "grid"}, "mark": {"type": "rule", "strokeDash": [4, 4], "color": "#9a9a9a", "strokeWidth": 1},
       "encoding": {
         "y": {"field": "g", "type": "quantitative", "scale": {"domain": [5, 30], "nice": false}, "axis": null},
         "x": {"datum": 69, "type": "quantitative", "scale": {"domain": [200, 700], "nice": false}, "axis": null},
         "x2": {"datum": 700}}},
      {"data": {"name": "rateSim"}, "transform": [{"fold": ["+high", "+low", "zero", "-low", "-high"], "as": ["coh", "val"]}],
       "mark": {"type": "line", "strokeWidth": 4.5},
       "encoding": {
         "x": {"field": "t", "type": "quantitative", "scale": {"domain": [200, 700], "nice": false}, "axis": null},
         "y": {"field": "val", "type": "quantitative", "scale": {"domain": [5, 30], "nice": false}, "axis": null},
         "color": {"field": "coh", "type": "nominal", "scale": {"domain": ["+high", "+low", "zero", "-low", "-high"], "range": ["#4592d4", "#0c5485", "#383838", "#a13426", "#ef3526"]},
           "legend": {"orient": "none", "legendX": 475, "legendY": -2, "title": ["motion", "coherence"], "titleFontStyle": "italic", "titleFontWeight": "normal", "titleFontSize": 18.5, "titleColor": "#111", "titleAnchor": "middle", "titleAlign": "center", "titleLineHeight": 21, "titlePadding": 1, "labelFontSize": 18.5, "labelAlign": "right", "labelOffset": 33, "labelColor": {"expr": "datum.label == '+high' ? '#2e8ad4' : datum.label == '+low' ? '#0c5485' : datum.label == 'zero' ? '#111111' : datum.label == '-low' ? '#c9705f' : '#ef3526'"}, "symbolOpacity": 0, "symbolSize": 1, "symbolStrokeWidth": 0, "rowPadding": 6.5}}}},
      {"data": {"name": "arrowR"}, "mark": {"type": "rule", "strokeWidth": 2.5, "color": "black"},
       "encoding": {
         "x": {"field": "x", "type": "quantitative", "scale": {"domain": [200, 700], "nice": false}, "axis": null},
         "y": {"field": "y", "type": "quantitative", "scale": {"domain": [5, 30], "nice": false}, "axis": null},
         "x2": {"field": "x2"}, "y2": {"field": "y2"}}},
      {"data": {"name": "arrowR"}, "mark": {"type": "point", "shape": "triangle-up", "angle": 36, "size": 160, "filled": true, "color": "black", "opacity": 1},
       "encoding": {
         "x": {"field": "x2", "type": "quantitative", "scale": {"domain": [200, 700], "nice": false}, "axis": null},
         "y": {"field": "y2", "type": "quantitative", "scale": {"domain": [5, 30], "nice": false}, "axis": null}}}
    ]
  },
  {
    "width": 210, "height": 219,
    "layer": [
      {"data": {"name": "grid"}, "mark": {"type": "rule", "strokeDash": [4, 4], "color": "#9a9a9a", "strokeWidth": 1},
       "encoding": {
         "y": {"field": "g", "type": "quantitative", "scale": {"domain": [5, 30], "nice": false}, "axis": {"values": [10, 20, 30], "title": "Variance", "offset": 17, "tickSize": 10, "labelPadding": 6, "titlePadding": 27}},
         "x": {"datum": 160, "type": "quantitative", "scale": {"domain": [200, 700], "nice": false}, "axis": {"values": [200, 450, 700], "offset": 10, "tickSize": 9, "labelPadding": 4, "title": "Time from motion onset (ms)", "titleX": 242, "titlePadding": 6}},
         "x2": {"datum": 740}}},
      {"data": {"name": "varData"}, "transform": [{"fold": ["+high", "+low", "zero", "-low", "-high"], "as": ["coh", "val"]}],
       "mark": {"type": "line", "strokeWidth": 4.5},
       "encoding": {
         "x": {"field": "t", "type": "quantitative", "scale": {"domain": [200, 700], "nice": false}, "axis": {"values": [200, 450, 700], "offset": 10, "tickSize": 9, "labelPadding": 4, "title": "Time from motion onset (ms)", "titleX": 242, "titlePadding": 6}},
         "y": {"field": "val", "type": "quantitative", "scale": {"domain": [5, 30], "nice": false}, "axis": {"values": [10, 20, 30], "title": "Variance", "offset": 17, "tickSize": 10, "labelPadding": 6, "titlePadding": 27}},
         "color": {"field": "coh", "type": "nominal", "scale": {"domain": ["+high", "+low", "zero", "-low", "-high"], "range": ["#4592d4", "#0c5485", "#383838", "#a13426", "#ef3526"]},
           "legend": {"orient": "none", "legendX": 475, "legendY": -2, "title": ["motion", "coherence"], "titleFontStyle": "italic", "titleFontWeight": "normal", "titleFontSize": 18.5, "titleColor": "#111", "titleAnchor": "middle", "titleAlign": "center", "titleLineHeight": 21, "titlePadding": 1, "labelFontSize": 18.5, "labelAlign": "right", "labelOffset": 33, "labelColor": {"expr": "datum.label == '+high' ? '#2e8ad4' : datum.label == '+low' ? '#0c5485' : datum.label == 'zero' ? '#111111' : datum.label == '-low' ? '#c9705f' : '#ef3526'"}, "symbolOpacity": 0, "symbolSize": 1, "symbolStrokeWidth": 0, "rowPadding": 6.5}}}}
    ]
  },
  {
    "width": 210, "height": 219,
    "layer": [
      {"data": {"name": "grid"}, "mark": {"type": "rule", "strokeDash": [4, 4], "color": "#9a9a9a", "strokeWidth": 1},
       "encoding": {
         "y": {"field": "g", "type": "quantitative", "scale": {"domain": [5, 30], "nice": false}, "axis": null},
         "x": {"datum": 69, "type": "quantitative", "scale": {"domain": [200, 700], "nice": false}, "axis": {"values": [200, 450, 700], "offset": 10, "tickSize": 9, "labelPadding": 4, "title": null}},
         "x2": {"datum": 700}}},
      {"data": {"name": "varSim"}, "transform": [{"fold": ["+high", "+low", "zero", "-low", "-high"], "as": ["coh", "val"]}],
       "mark": {"type": "line", "strokeWidth": 4.5},
       "encoding": {
         "x": {"field": "t", "type": "quantitative", "scale": {"domain": [200, 700], "nice": false}, "axis": {"values": [200, 450, 700], "offset": 10, "tickSize": 9, "labelPadding": 4, "title": null}},
         "y": {"field": "val", "type": "quantitative", "scale": {"domain": [5, 30], "nice": false}, "axis": null},
         "color": {"field": "coh", "type": "nominal", "scale": {"domain": ["+high", "+low", "zero", "-low", "-high"], "range": ["#4592d4", "#0c5485", "#383838", "#a13426", "#ef3526"]},
           "legend": {"orient": "none", "legendX": 475, "legendY": -2, "title": ["motion", "coherence"], "titleFontStyle": "italic", "titleFontWeight": "normal", "titleFontSize": 18.5, "titleColor": "#111", "titleAnchor": "middle", "titleAlign": "center", "titleLineHeight": 21, "titlePadding": 1, "labelFontSize": 18.5, "labelAlign": "right", "labelOffset": 33, "labelColor": {"expr": "datum.label == '+high' ? '#2e8ad4' : datum.label == '+low' ? '#0c5485' : datum.label == 'zero' ? '#111111' : datum.label == '-low' ? '#c9705f' : '#ef3526'"}, "symbolOpacity": 0, "symbolSize": 1, "symbolStrokeWidth": 0, "rowPadding": 6.5}}}}
    ]
  }
]
}
